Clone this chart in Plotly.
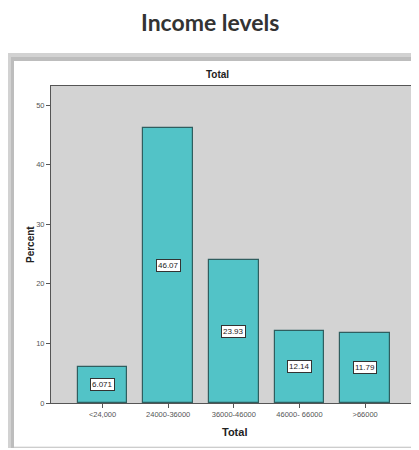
import plotly.graph_objects as go

categories = ["<24,000", "24000-36000", "36000-46000", "46000- 66000", ">66000"]
percent = [6.071, 46.07, 23.93, 12.14, 11.79]
value_labels = ["6.071", "46.07", "23.93", "12.14", "11.79"]
y_ticks = [0, 10, 20, 30, 40, 50]

# page body has an 8px margin; figure sized to fill the remaining window
OFF = 8
W, H = 419 - OFF, 450 - OFF
L, R, T, B = 51 - OFF, 2, 86 - OFF, 47
PW, PH = W - L - R, H - T - B

def px(x):
    return (x - OFF - L) / PW

def py(y):
    return 1 - (y - OFF - T) / PH

fig = go.Figure()
fig.add_trace(go.Bar(
    x=list(range(len(categories))), y=percent, width=0.76,
    marker=dict(color="#52C3C7", line=dict(color="#2F5E5F", width=1.2)),
    hoverinfo="skip",
))

shapes = [
    dict(type="rect", xref="paper", yref="paper", x0=px(8), x1=px(425), y0=py(448), y1=py(53),
         fillcolor="#d2d2d2", line=dict(width=0), layer="below"),
    dict(type="rect", xref="paper", yref="paper", x0=px(11), x1=px(425), y0=py(448), y1=py(57),
         fillcolor="#bdbdbd", line=dict(width=0), layer="below"),
    dict(type="rect", xref="paper", yref="paper", x0=px(14), x1=px(425), y0=py(447), y1=py(61),
         fillcolor="#ffffff", line=dict(width=0), layer="below"),
    dict(type="rect", xref="paper", yref="paper", x0=0, x1=1, y0=0, y1=1,
         fillcolor="#D3D3D3", line=dict(width=0), layer="below"),
    dict(type="line", xref="paper", yref="paper", x0=px(14), x1=px(425), y0=py(447), y1=py(447),
         line=dict(color="#dddddd", width=1)),
]

annotations = [
    dict(text="<b>Income levels</b>", xref="paper", yref="paper", x=px(210), y=py(22),
         showarrow=False, font=dict(family="Lato, Open Sans, sans-serif", size=23, color="#333333"),
         xanchor="center", yanchor="middle"),
    dict(text="<b>Total</b>", xref="paper", yref="paper", x=px(217), y=py(74),
         showarrow=False, font=dict(family="Liberation Sans, Arial", size=10, color="#222222"),
         xanchor="center", yanchor="middle"),
    dict(text="<b>Total</b>", xref="paper", yref="paper", x=px(234), y=py(432),
         showarrow=False, font=dict(family="Liberation Sans, Arial", size=11, color="#222222"),
         xanchor="center", yanchor="middle"),
    dict(text="<b>Percent</b>", xref="paper", yref="paper", x=px(30), y=py(245), textangle=-90,
         showarrow=False, font=dict(family="Liberation Sans, Arial", size=10, color="#222222"),
         xanchor="center", yanchor="middle"),
]
for i, (v, t) in enumerate(zip(percent, value_labels)):
    annotations.append(dict(
        x=i, y=v / 2, xref="x", yref="y", text=t, showarrow=False,
        font=dict(family="Liberation Sans, Arial", size=8, color="#222222"),
        bgcolor="#ffffff", bordercolor="#333333", borderwidth=1, borderpad=1,
    ))

fig.update_layout(
    width=W, height=H,
    margin=dict(l=L, r=R, t=T, b=B, autoexpand=False),
    paper_bgcolor="#ffffff", plot_bgcolor="#D3D3D3",
    showlegend=False, bargap=0,
    shapes=shapes, annotations=annotations,
    font=dict(family="Liberation Sans, Arial"),
)
fig.update_xaxes(
    range=[-0.785, 4.79], tickmode="array", tickvals=list(range(len(categories))),
    ticktext=categories, ticks="outside", ticklen=4, tickcolor="#555555",
    tickfont=dict(size=7.5, color="#555555"), automargin=False,
    showline=True, linecolor="#555555", linewidth=1, mirror=True, showgrid=False, zeroline=False,
)
fig.update_yaxes(
    range=[0, 53.2], tickmode="array", tickvals=y_ticks, ticks="outside", ticklen=4,
    tickcolor="#555555", tickfont=dict(size=7.5, color="#555555"), automargin=False,
    showline=True, linecolor="#555555", linewidth=1, mirror=True, showgrid=False, zeroline=False,
)

fig.write_html("out.html")
